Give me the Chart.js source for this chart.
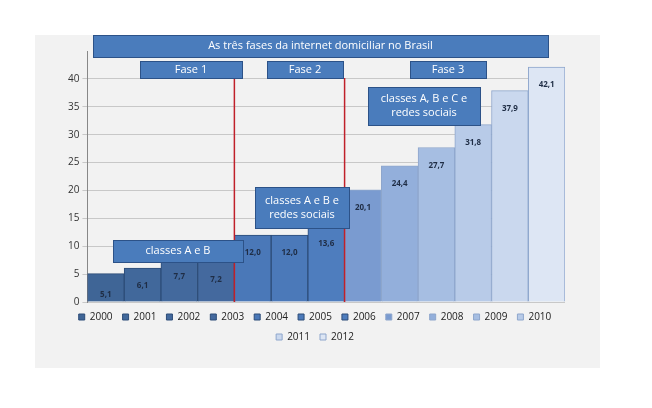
<!DOCTYPE html>
<html><head><meta charset="utf-8">
<script src="https://cdn.jsdelivr.net/npm/chart.js@4"></script>
<style>body{margin:0;background:#fff}#wrap{width:652px;height:408px}</style>
</head><body><div id="wrap"><canvas id="c"></canvas></div>
<script>
const years = ["2000","2001","2002","2003","2004","2005","2006","2007","2008","2009","2010","2011","2012"];
const values = [5.1, 6.1, 7.7, 7.2, 12.0, 12.0, 13.6, 20.1, 24.4, 27.7, 31.8, 37.9, 42.1];
const colors = ["#3f6596","#41689b","#43699d","#44699e","#4a78b8","#4b79b9","#4e7dbe",
  "#7a9bd0","#93afdb","#a6bee2","#b8cbe8","#cad8ee","#dde6f4"];
const font = "'Open Sans', sans-serif";

const datasets = years.map((y, i) => ({
  label: y,
  data: years.map((_, j) => j === i ? values[i] : null),
  backgroundColor: colors[i],
  borderColor: i < 7 ? "#2d4c78" : "#8ea6cc",
  borderWidth: 1,
  barPercentage: 1, categoryPercentage: 1,
}));

function box(ctx, x1, y1, x2, y2, lines) {
  ctx.fillStyle = "#4a7cbc"; ctx.strokeStyle = "#2c5288"; ctx.lineWidth = 1;
  ctx.fillRect(x1, y1, x2 - x1, y2 - y1); ctx.strokeRect(x1 + .5, y1 + .5, x2 - x1, y2 - y1);
  ctx.fillStyle = "#fff"; ctx.font = "11px " + font; ctx.textAlign = "center"; ctx.textBaseline = "middle";
  const h = 14, cy = (y1 + y2) / 2 - (lines.length - 1) * h / 2;
  lines.forEach((l, k) => ctx.fillText(l, (x1 + x2) / 2, cy + k * h));
}

const deco = {
  id: "deco",
  beforeDraw(ch) {
    const ctx = ch.ctx;
    ctx.save(); ctx.fillStyle = "#f2f2f2"; ctx.fillRect(35, 35, 565, 333); ctx.restore();
  },
  afterDatasetsDraw(ch) {
    const ctx = ch.ctx, xs = ch.scales.x, ys = ch.scales.y;
    ctx.save();
    // value labels
    ctx.font = "bold 8px " + font; ctx.fillStyle = "#1f2d45"; ctx.textAlign = "center"; ctx.textBaseline = "middle";
    values.forEach((v, i) => {
      const x = xs.getPixelForValue(i), top = ys.getPixelForValue(v), bot = ys.getPixelForValue(0);
      const y = Math.min(top + 18, (top + bot) / 2 + 6);
      ctx.fillText(v.toFixed(1).replace(".", ","), x, i === 0 ? bot - 7 : y);
    });
    // phase separators
    ctx.strokeStyle = "#c0202a"; ctx.lineWidth = 1.5;
    [3.5, 6.5].forEach(b => {
      const x = xs.getPixelForValue(b);
      ctx.beginPath(); ctx.moveTo(x, 78); ctx.lineTo(x, ys.getPixelForValue(0)); ctx.stroke();
    });
    box(ctx, 93, 35, 548, 57, ["As três fases da internet domiciliar no Brasil"]);
    box(ctx, 140, 61, 242, 78, ["Fase 1"]);
    box(ctx, 267, 61, 343, 78, ["Fase 2"]);
    box(ctx, 410, 61, 486, 78, ["Fase 3"]);
    box(ctx, 113, 240, 243, 262, ["classes A e B"]);
    box(ctx, 255, 187, 349, 228, ["classes A e B e", "redes sociais"]);
    box(ctx, 368, 87, 480, 125, ["classes A, B e C e", "redes sociais"]);
    ctx.restore();
  }
};

new Chart(document.getElementById("c"), {
  type: "bar",
  data: { labels: years, datasets },
  plugins: [deco],
  options: {
    responsive: true, maintainAspectRatio: false, animation: false,
    layout: { padding: { left: 65, right: 87, top: 51, bottom: 56 } },
    plugins: {
      tooltip: { enabled: false },
      legend: {
        position: "bottom",
        labels: { boxWidth: 6, boxHeight: 6, padding: 10, color: "#222", font: { family: font, size: 10 } }
      }
    },
    scales: {
      x: { stacked: true, display: false },
      y: {
        stacked: true, min: 0, max: 45,
        grid: { color: c => c.tick.value === 45 ? "rgba(0,0,0,0)" : "#c8c8c8", drawTicks: true, tickLength: 5 },
        border: { color: "#888" },
        ticks: { stepSize: 5, color: "#333", font: { family: font, size: 10 }, callback: v => v === 45 ? "" : v }
      }
    }
  }
});
</script></body></html>
